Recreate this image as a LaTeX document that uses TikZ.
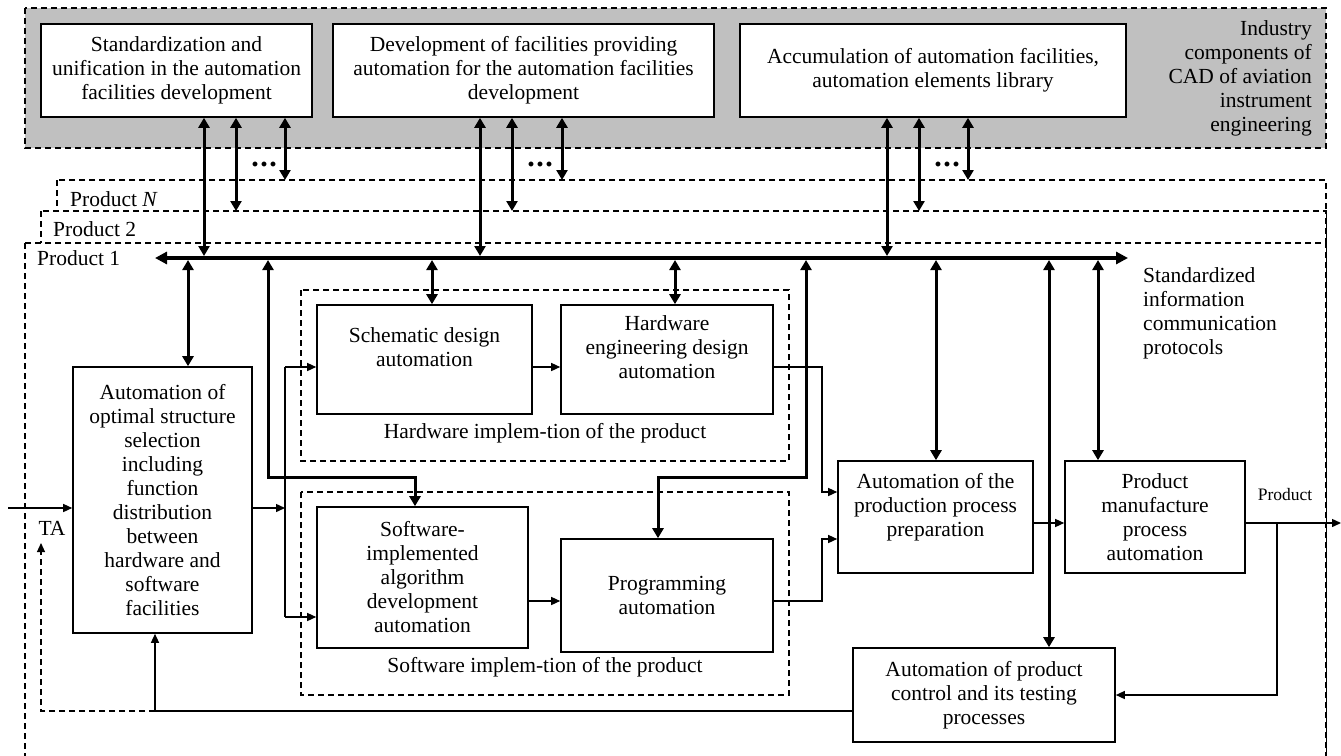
\documentclass[tikz,border=0pt]{standalone}
\usepackage{fontspec}
\setmainfont{Liberation Serif}
\usetikzlibrary{arrows.meta}
\definecolor{grayfill}{RGB}{192,192,192}
\newcommand\mfs{\fontsize{21.5}{24}\selectfont}
\newcommand\sfs{\fontsize{17.5}{20}\selectfont}
\newcommand\dfs{\fontsize{30}{30}\selectfont}
\begin{document}
\begin{tikzpicture}[x=1pt,y=-1pt,
  every node/.style={font=\mfs},
  box/.style={draw,line width=1.6pt,fill=white,align=center,inner sep=1pt},
  lbl/.style={inner sep=0pt},
  dsh/.style={line width=1.1pt,dash pattern=on 6pt off 4pt},
  thinline/.style={line width=1.4pt},
  tarr/.style={thinline,-{Triangle[length=9pt,width=8pt]}},
  dbl/.style={line width=3pt,{Triangle[length=10pt,width=11pt]}-{Triangle[length=10pt,width=11pt]}},
  busline/.style={line width=4pt,{Triangle[length=12pt,width=12pt]}-{Triangle[length=12pt,width=12pt]}}]
\useasboundingbox (0,0) rectangle (1341,755);
\clip (0,0) rectangle (1341,755);

% industry region
\fill[grayfill] (25,8) rectangle (1326,148);
\draw[dsh] (25,8) rectangle (1326,148);

% product frames
\draw[dsh,fill=white] (57,180) rectangle (1326,770);
\draw[dsh,fill=white] (41,211) rectangle (1326,770);
\draw[dsh,fill=white] (25,243) rectangle (1326,770);

\coordinate (pN) at (0,180);
\coordinate (p2) at (0,211);
\coordinate (bt) at (0,256);
\coordinate (bb) at (0,260);

% labels
\node[lbl,anchor=west] (lp1) at (37,258) {Product 1};
\node[lbl,anchor=west] (lp2) at (53,229) {Product 2};
\node[lbl,anchor=west] (lpN) at (70,199) {Product \textit{N}};
\node[lbl,align=right,anchor=east] (ind) at (1312,78) {Industry\\components of\\CAD of aviation\\instrument\\engineering};
\node[lbl,align=left,anchor=west] (sip) at (1143,313) {Standardized\\information\\communication\\protocols};

% top boxes
\node[box,minimum width=271pt,minimum height=93pt] (b1) at (176.5,70.5) {Standardization and\\unification in the automation\\facilities development};
\node[box,minimum width=381pt,minimum height=93pt] (b2) at (523.5,70.5) {Development of facilities providing\\automation for the automation facilities\\development};
\node[box,minimum width=386pt,minimum height=93pt] (b3) at (933,70.5) {Accumulation of automation facilities,\\automation elements library};

% dots
\node[lbl,anchor=base,font=\dfs] (d1) at (264,166) {\textbf{.\kern1.5pt.\kern1.5pt.}};
\node[lbl,anchor=base,font=\dfs] (d2) at (540,166) {\textbf{.\kern1.5pt.\kern1.5pt.}};
\node[lbl,anchor=base,font=\dfs] (d3) at (947,166) {\textbf{.\kern1.5pt.\kern1.5pt.}};

% groups
\draw[dsh] (301,290) rectangle (789,461);
\draw[dsh] (301,492) rectangle (789,695);
\node[lbl] (hwl) at (545,433) {Hardware implem-tion of the product};
\node[lbl] (swl) at (545,667) {Software implem-tion of the product};

% main boxes
\node[box,minimum width=179pt,minimum height=266pt] (A) at (162.5,500) {Automation of\\optimal structure\\selection\\including\\function\\distribution\\between\\hardware and\\software\\facilities};
\node[box,minimum width=215pt,minimum height=109pt] (S) at (424.5,359.5) {Schematic design\\automation\\\mbox{}};
\node[box,minimum width=212pt,minimum height=109pt] (H) at (667,359.5) {Hardware\\engineering design\\automation\\\mbox{}};
\node[box,minimum width=211pt,minimum height=141pt] (W) at (422.5,577.5) {Software-\\implemented\\algorithm\\development\\automation};
\node[box,minimum width=212pt,minimum height=113pt] (G) at (667,595.5) {Programming\\automation};
\node[box,minimum width=195pt,minimum height=112pt] (P) at (935.5,517) {Automation of the\\production process\\preparation\\\mbox{}};
\node[box,minimum width=180pt,minimum height=112pt] (M) at (1155,517) {Product\\manufacture\\process\\automation};
\node[box,minimum width=262pt,minimum height=94pt] (C) at (984,695) {Automation of product\\control and its testing\\processes};

% bus
\coordinate (busL) at (155,258);
\coordinate (busR) at (1128,258);
\draw[busline] (busL) -- (busR);

% top box connectors
\draw[dbl] (b1.south -| 204,0) -- (bt -| 204,0);
\draw[dbl] (b1.south -| 236,0) -- (p2 -| 236,0);
\draw[dbl] (b1.south -| 285,0) -- (pN -| 285,0);
\draw[dbl] (b2.south -| 480,0) -- (bt -| 480,0);
\draw[dbl] (b2.south -| 512,0) -- (p2 -| 512,0);
\draw[dbl] (b2.south -| 562,0) -- (pN -| 562,0);
\draw[dbl] (b3.south -| 887,0) -- (bt -| 887,0);
\draw[dbl] (b3.south -| 919,0) -- (p2 -| 919,0);
\draw[dbl] (b3.south -| 968,0) -- (pN -| 968,0);

% bus to blocks
\draw[dbl] (bb -| 188,0) -- (A.north -| 188,0);
\draw[dbl] (bb -| 268,0) |- (415,477) -- (W.north -| 415,0);
\draw[dbl] (bb -| 432,0) -- (S.north -| 432,0);
\draw[dbl] (bb -| 675,0) -- (H.north -| 675,0);
\draw[dbl] (bb -| 806,0) |- (658,477) -- (G.north -| 658,0);
\draw[dbl] (bb -| 936,0) -- (P.north -| 936,0);
\draw[dbl] (bb -| 1049,0) -- (C.north -| 1049,0);
\draw[dbl] (bb -| 1098,0) -- (M.north -| 1098,0);

% thin connectors
\coordinate (in) at (8,508);
\draw[tarr] (in) -- (in -| A.west);
\node[lbl] (ta) at (52,528) {TA};
\coordinate (sp) at (285,508);
\coordinate (sa) at (285,367);
\coordinate (sb) at (285,617);
\draw[tarr] (sp -| A.east) -- (sp);
\draw[thinline] (sa) -- (sb);
\draw[tarr] (sa) -- (sa -| S.west);
\draw[tarr] (sb) -- (sb -| W.west);
\draw[tarr] (sa -| S.east) -- (sa -| H.west);
\coordinate (hp) at (822,492);
\draw[tarr] (sa -| H.east) -| (hp) -- (hp -| P.west);
\coordinate (wg) at (0,601);
\draw[tarr] (wg -| W.east) -- (wg -| G.west);
\coordinate (gp) at (822,539);
\draw[tarr] (wg -| G.east) -| (gp) -- (gp -| P.west);
\coordinate (pm) at (0,523);
\draw[tarr] (pm -| P.east) -- (pm -| M.west);
\coordinate (out) at (1341,523);
\draw[tarr] (pm -| M.east) -- (out);
\node[lbl,font=\sfs] (outl) at (1285,495) {Product};
\coordinate (br) at (1277,523);
\draw[tarr] (br) |- (C.east);
\coordinate (fb) at (155,711);
\draw[thinline] (C.west |- fb) -- (fb);
\draw[tarr] (fb) -- (fb |- A.south);
\draw[dsh,-{Triangle[length=9pt,width=8pt]}] (fb) -| (41,543);
\end{tikzpicture}
\end{document}
